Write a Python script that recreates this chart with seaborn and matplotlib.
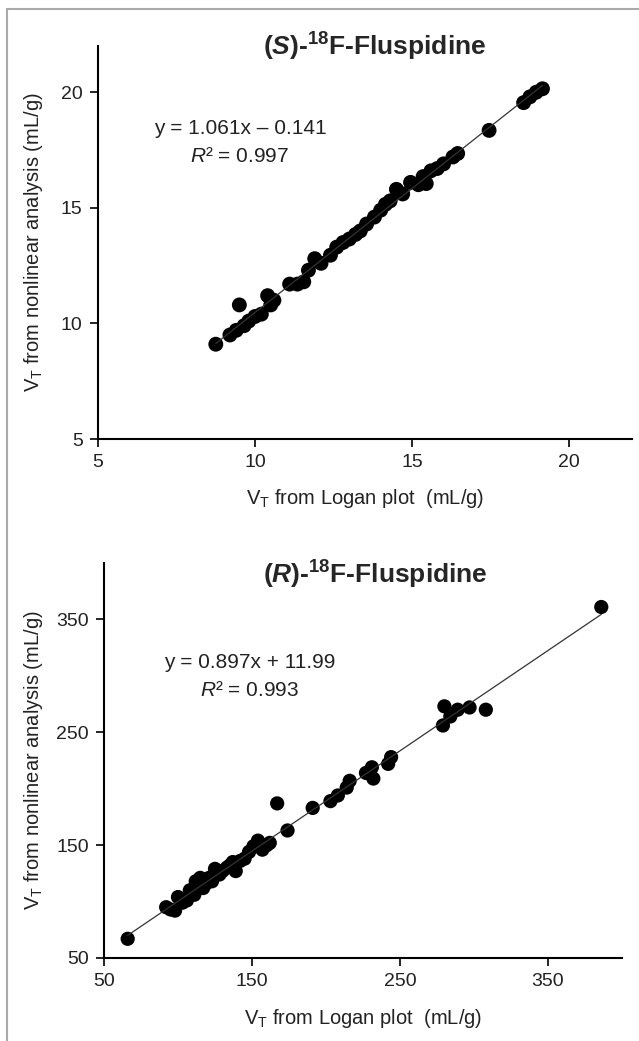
import numpy as np
import matplotlib.pyplot as plt
import seaborn as sns
from matplotlib.patches import Rectangle

# V_T values, (S)-enantiomer
s_logan = [8.75, 9.2, 9.4, 9.5, 9.65, 9.8, 10.0, 10.2, 10.4, 10.5, 10.6, 11.1, 11.35, 11.55,
           11.7, 11.9, 12.1, 12.4, 12.6, 12.8, 13.0, 13.2, 13.35, 13.55, 13.8, 14.0, 14.15,
           14.3, 14.5, 14.7, 14.95, 15.2, 15.35, 15.45, 15.6, 15.8, 16.0, 16.3, 16.45, 17.45,
           18.55, 18.75, 18.95, 19.15]
s_nonlin = [9.1, 9.5, 9.7, 10.8, 9.9, 10.1, 10.3, 10.4, 11.2, 10.8, 11.0, 11.7, 11.7, 11.8,
            12.3, 12.8, 12.6, 12.95, 13.3, 13.5, 13.65, 13.85, 14.0, 14.3, 14.6, 14.9, 15.15,
            15.3, 15.8, 15.6, 16.1, 16.0, 16.35, 16.05, 16.6, 16.7, 16.9, 17.2, 17.35, 18.35,
            19.55, 19.8, 20.0, 20.15]

# V_T values, (R)-enantiomer
r_logan = [66, 92, 95, 98, 100, 103, 106, 108, 111, 112, 115, 117, 119, 121, 123, 125, 128,
           130, 133, 135, 137, 139, 142, 145, 148, 151, 154, 157, 160, 162, 167, 174, 191,
           203, 208, 214, 216, 227, 231, 232, 242, 244, 279, 280, 284, 289, 297, 308, 386]
r_nonlin = [67, 95, 93, 92, 104, 99, 101, 110, 106, 118, 121, 112, 116, 121, 118, 129, 124,
            127, 130, 132, 135, 127, 136, 138, 144, 149, 154, 146, 150, 152, 187, 163, 183,
            189, 194, 201, 207, 214, 219, 209, 222, 228, 256, 273, 264, 270, 272, 270, 361]

s_ticks = [5, 10, 15, 20]
r_ticks = [50, 150, 250, 350]

sns.set_style("ticks")
plt.rcParams['font.family'] = ['Liberation Sans', 'DejaVu Sans']
plt.rcParams['mathtext.fontset'] = 'custom'
plt.rcParams['mathtext.rm'] = 'Liberation Sans'
plt.rcParams['mathtext.it'] = 'Liberation Sans:italic'
plt.rcParams['mathtext.bf'] = 'Liberation Sans:bold'
plt.rcParams['mathtext.bfit'] = 'Liberation Sans:italic:bold'

W, H = 639, 1041
fig = plt.figure(figsize=(W / 100, H / 100), dpi=100)

def px_axes(left, top, right, bottom):
    return fig.add_axes([left / W, 1 - bottom / H, (right - left) / W, (bottom - top) / H])

ax1 = px_axes(98, 46, 632, 439)
ax2 = px_axes(104, 563, 622, 958)

def panel(ax, x, y, lim, ticks, size):
    sns.regplot(x=x, y=y, ax=ax, ci=None, truncate=True,
                scatter_kws=dict(s=size, color='black', edgecolor='none', alpha=1),
                line_kws=dict(color='#333333', lw=0.9))
    ax.set_xlim(lim)
    ax.set_ylim(lim)
    ax.set_xticks(ticks)
    ax.set_yticks(ticks)
    ax.tick_params(labelsize=14, length=6, width=1.2, pad=5, color='black', labelcolor='#222222')
    for sp in ['left', 'bottom']:
        ax.spines[sp].set_linewidth(1.5)
        ax.spines[sp].set_color('black')
    sns.despine(ax=ax)
    ax.set_xlabel(r'V$_\mathrm{T}$ from Logan plot  (mL/g)', fontsize=14.5, color='#222222')
    ax.set_ylabel(r'V$_\mathrm{T}$ from nonlinear analysis (mL/g)', fontsize=14.5, color='#222222')

panel(ax1, s_logan, s_nonlin, (5, 22), s_ticks, 115)
panel(ax2, r_logan, r_nonlin, (50, 400), r_ticks, 105)

ax1.xaxis.set_label_coords(0.5, -0.122)
ax1.yaxis.set_label_coords(-0.1, 0.5)
ax2.xaxis.set_label_coords(0.5, -0.124)
ax2.yaxis.set_label_coords(-0.114, 0.5)

# titles and fit equations
fig.text(375 / W, 1 - 47 / H, r'($\mathbfit{S}$)-$^{\mathbf{18}}$F-Fluspidine',
         ha='center', va='center', fontsize=19, fontweight='bold')
fig.text(375 / W, 1 - 575 / H, r'($\mathbfit{R}$)-$^{\mathbf{18}}$F-Fluspidine',
         ha='center', va='center', fontsize=19, fontweight='bold')

fig.text(240 / W, 1 - 128 / H, 'y = 1.061x – 0.141', ha='center', va='center',
         fontsize=15, color='#222222')
fig.text(240 / W, 1 - 156 / H, r'$\mathit{R}$² = 0.997', ha='center', va='center',
         fontsize=15, color='#222222')
fig.text(250 / W, 1 - 663 / H, 'y = 0.897x + 11.99', ha='center', va='center',
         fontsize=15, color='#222222')
fig.text(250 / W, 1 - 690 / H, r'$\mathit{R}$² = 0.993', ha='center', va='center',
         fontsize=15, color='#222222')

# grey frame of the original figure (cropped at right and bottom)
fig.add_artist(Rectangle((7 / W, -0.1), 1.2, 1.1 - 9 / H, transform=fig.transFigure,
                         fill=False, edgecolor='#aaaaaa', lw=1.5))

fig.savefig('out.png', dpi=100)
